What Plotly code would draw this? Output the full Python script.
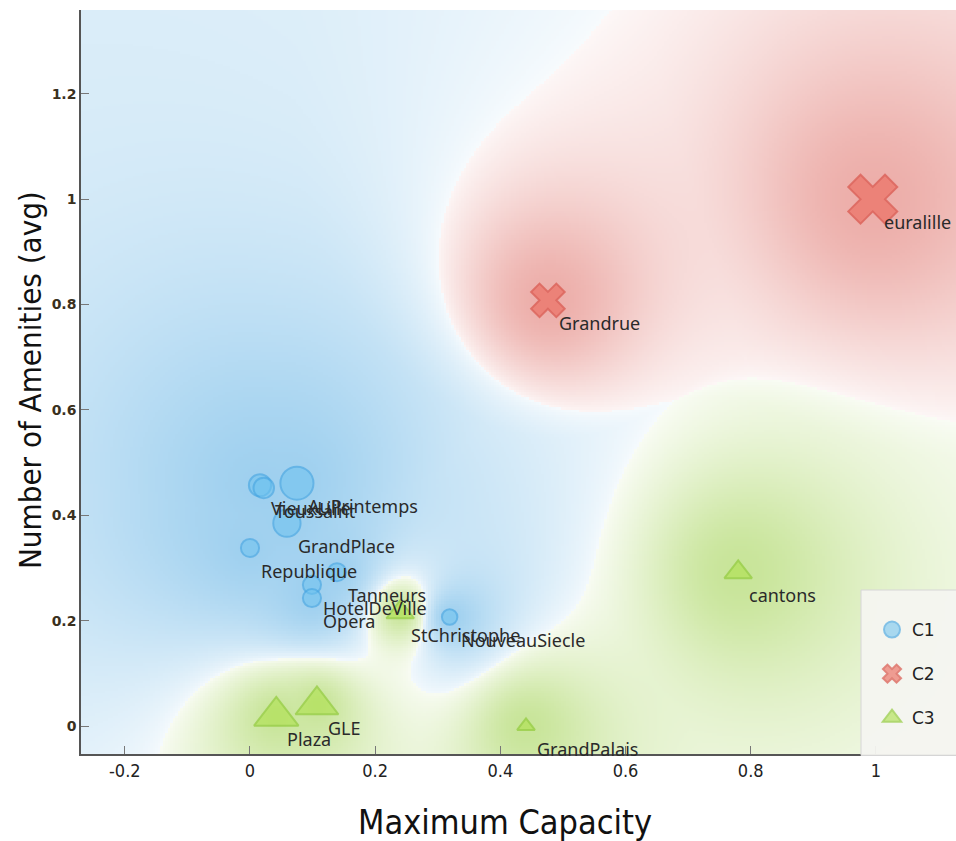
import numpy as np
import plotly.graph_objects as go

# ---- data ----
c1_names = ["VieuxLille", "Toussaint", "AuPrintemps", "GrandPlace", "Republique",
            "Tanneurs", "HotelDeVille", "Opera", "NouveauSiecle"]
c1_capacity = [0.016, 0.022, 0.075, 0.059, 0.0, 0.139, 0.099, 0.099, 0.319]
c1_amenities = [0.457, 0.452, 0.461, 0.385, 0.338, 0.292, 0.268, 0.243, 0.207]
c1_weight = [0.30, 0.25, 0.62, 0.45, 0.18, 0.18, 0.18, 0.18, 0.10]

c2_names = ["Grandrue", "euralille"]
c2_capacity = [0.476, 0.995]
c2_amenities = [0.808, 1.0]
c2_weight = [0.52, 0.92]

c3_names = ["StChristophe", "cantons", "GrandPalais", "Plaza", "GLE"]
c3_capacity = [0.240, 0.780, 0.441, 0.042, 0.107]
c3_amenities = [0.216, 0.292, 0.0, 0.019, 0.040]
c3_weight = [0.35, 0.35, 0.10, 0.78, 0.74]

x_ticks = [-0.2, 0, 0.2, 0.4, 0.6, 0.8, 1]
y_ticks = [0, 0.2, 0.4, 0.6, 0.8, 1, 1.2]

X_RANGE = [-0.27, 1.128]
Y_RANGE = [-0.053, 1.359]

groups = [
    ("C1", c1_names, c1_capacity, c1_amenities, c1_weight),
    ("C2", c2_names, c2_capacity, c2_amenities, c2_weight),
    ("C3", c3_names, c3_capacity, c3_amenities, c3_weight),
]
base_rgb = {"C1": (70, 165, 225), "C2": (215, 75, 65), "C3": (150, 205, 60)}
strength = {"C1": 0.52, "C2": 0.45, "C3": 0.52}
fill = {"C1": "rgba(110,195,240,0.8)", "C2": "rgba(235,105,92,0.9)", "C3": "rgba(175,225,80,0.9)"}
edge = {"C1": "rgba(70,165,225,0.9)", "C2": "rgba(215,75,65,0.9)", "C3": "rgba(140,200,50,0.9)"}
symbol = {"C1": "circle", "C2": "x", "C3": "triangle-up"}


def marker_size(w):
    return [12 + 34 * v for v in w]


# ---- class density background: inverse-distance weighted class share ----
sx, sy = 626.0, 527.0  # screen px per data unit
nx, ny = 350, 300
gx = np.linspace(X_RANGE[0], X_RANGE[1], nx)
gy = np.linspace(Y_RANGE[0], Y_RANGE[1], ny)
GX, GY = np.meshgrid(gx, gy)

px = np.concatenate([np.array(g[2]) for g in groups]) * sx
py = np.concatenate([np.array(g[3]) for g in groups]) * sy
cls = np.concatenate([[i] * len(g[1]) for i, g in enumerate(groups)])

d = np.sqrt((GX[..., None] * sx - px) ** 2 + (GY[..., None] * sy - py) ** 2)
w = 1.0 / (d + 3.0) ** 2.2
p = np.stack([w[..., cls == i].sum(-1) for i in range(3)], -1)
p /= p.sum(-1, keepdims=True)
ps = np.sort(p, -1)
cert = ps[..., -1] - ps[..., -2]
dom = p.argmax(-1)
dsame = np.stack([d[..., cls == i].min(-1) for i in range(3)], -1)
dn = np.take_along_axis(dsame, dom[..., None], -1)[..., 0]
prox = np.exp(-dn ** 2 / (2 * 160.0 ** 2))
amax = np.array([strength[g[0]] for g in groups])[dom]
alpha = amax * (0.12 + 0.88 * cert ** 0.7) * (0.58 + 0.42 * prox)
cols = np.array([base_rgb[g[0]] for g in groups], dtype=float)
img = 255 * (1 - alpha[..., None]) + cols[dom] * alpha[..., None]
img = np.clip(img, 0, 255).astype(np.uint8)

fig = go.Figure()
fig.add_trace(go.Image(z=img, x0=gx[0], dx=gx[1] - gx[0], y0=gy[0], dy=gy[1] - gy[0],
                       hoverinfo="skip"))

for name, labels, xs, ys, wts in groups:
    fig.add_trace(go.Scatter(
        x=xs, y=ys, mode="markers", name=name, text=labels,
        marker=dict(symbol=symbol[name], size=marker_size(wts), color=fill[name],
                    line=dict(color=edge[name], width=2)),
        legendgroup=name,
    ))
    for lab, xv, yv in zip(labels, xs, ys):
        fig.add_annotation(x=xv, y=yv, text=lab, showarrow=False, xanchor="left",
                           yanchor="middle", xshift=9, yshift=-23,
                           font=dict(family="Noto Sans", size=18, color="#2a2a2a"))

narrow = "DejaVu Sans Condensed, Liberation Sans"
fig.add_annotation(text="Maximum Capacity", xref="paper", yref="paper", x=(505 - 81) / 875,
                   y=-(822 - 754) / 744, xanchor="center", yanchor="middle", showarrow=False,
                   font=dict(family=narrow, size=34, color="#111"))
fig.add_annotation(text="Number of Amenities (avg)", xref="paper", yref="paper", x=-(81 - 30) / 875,
                   y=(754 - 380) / 744, xanchor="center", yanchor="middle", showarrow=False,
                   textangle=-90, font=dict(family=narrow, size=31, color="#111"))

# legend panel
fig.add_shape(type="rect", xref="paper", yref="paper", x0=(861 - 81) / 875, x1=1.01,
              y0=-0.002, y1=(754 - 590) / 744, fillcolor="rgba(244,244,240,0.95)",
              line=dict(color="#d6d6d6", width=1), layer="above")

fig.update_layout(
    width=956, height=841,
    margin=dict(l=81, r=0, t=10, b=87),
    paper_bgcolor="white", plot_bgcolor="white",
    showlegend=True,
    legend=dict(x=(872 - 81) / 875, y=(754 - 612) / 744, xanchor="left", yanchor="top",
                bgcolor="rgba(0,0,0,0)", borderwidth=0,
                font=dict(family="DejaVu Sans", size=17, color="#222"),
                itemsizing="trace", tracegroupgap=19),
    xaxis=dict(range=X_RANGE, tickvals=x_ticks, ticktext=[f"{v:g}" for v in x_ticks],
               ticks="inside", ticklen=8, tickcolor="#777", showgrid=False, zeroline=False,
               showline=True, linecolor="#555", linewidth=1.5, automargin=False,
               tickfont=dict(family=narrow, size=18, color="#222")),
    yaxis=dict(range=Y_RANGE, tickvals=y_ticks, ticktext=[f"{v:g}" for v in y_ticks],
               ticks="inside", ticklen=8, tickcolor="#777", showgrid=False, zeroline=False,
               showline=True, linecolor="#555", linewidth=1.5, automargin=False,
               scaleanchor=False,
               tickfont=dict(family="DejaVu Sans", size=14, color="#3a3020", weight="bold")),
)

fig.write_html("out.html", config={"displayModeBar": False},
               post_script="document.body.style.margin='0';")
